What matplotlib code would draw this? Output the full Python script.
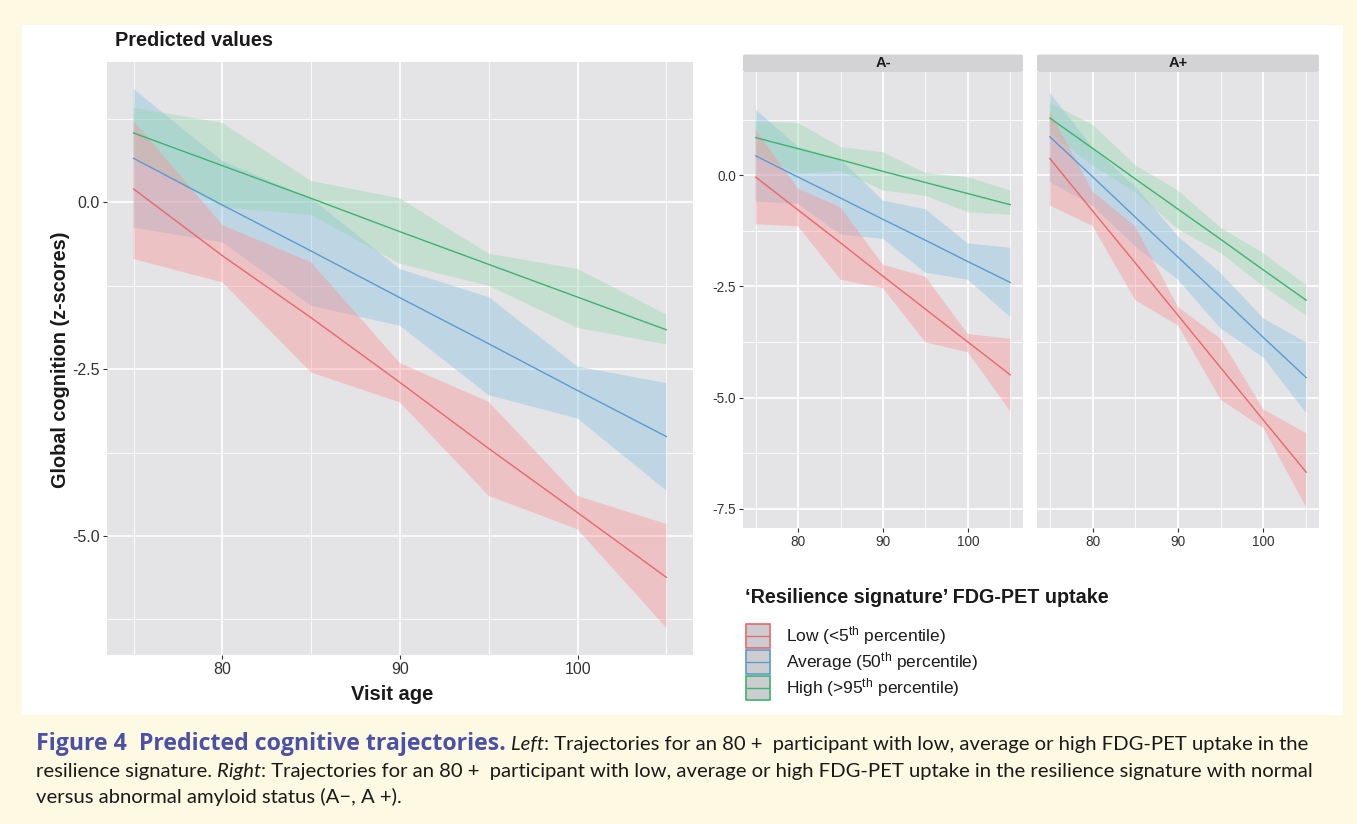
import matplotlib
matplotlib.use("Agg")
import matplotlib.pyplot as plt
from matplotlib.patches import Rectangle, FancyBboxPatch
from matplotlib.lines import Line2D

plt.rcParams['axes.unicode_minus'] = False
SANS = 'Liberation Sans'
plt.rcParams['font.family'] = [SANS, 'DejaVu Sans']
plt.rcParams['mathtext.fontset'] = 'custom'
plt.rcParams['mathtext.rm'] = SANS
plt.rcParams['mathtext.it'] = SANS + ':italic'
plt.rcParams['mathtext.bf'] = SANS + ':bold'

# ---------------- data ----------------
ages = [75, 80, 85, 90, 95, 100, 105]

# Left panel (all participants)
all_low_fit = [0.20, -0.80, -1.73, -2.70, -3.69, -4.65, -5.62]
all_low_lo = [-0.85, -1.20, -2.55, -3.00, -4.40, -4.90, -6.38]
all_low_hi = [1.22, -0.34, -0.90, -2.41, -2.99, -4.40, -4.82]
all_avg_fit = [0.66, -0.04, -0.73, -1.43, -2.12, -2.82, -3.51]
all_avg_lo = [-0.38, -0.60, -1.55, -1.85, -2.89, -3.24, -4.32]
all_avg_hi = [1.70, 0.62, 0.06, -1.00, -1.42, -2.46, -2.71]
all_high_fit = [1.04, 0.55, 0.06, -0.44, -0.93, -1.42, -1.91]
all_high_lo = [0.66, -0.07, -0.19, -0.92, -1.25, -1.88, -2.13]
all_high_hi = [1.42, 1.19, 0.32, 0.06, -0.77, -1.00, -1.68]

# Right panel, A-
neg_low_fit = [-0.04, -0.78, -1.52, -2.27, -3.01, -3.75, -4.49]
neg_low_lo = [-1.10, -1.15, -2.35, -2.54, -3.76, -3.98, -5.31]
neg_low_hi = [1.02, -0.30, -0.72, -2.01, -2.28, -3.57, -3.68]
neg_avg_fit = [0.44, -0.04, -0.51, -0.99, -1.46, -1.94, -2.41]
neg_avg_lo = [-0.59, -0.64, -1.33, -1.43, -2.19, -2.35, -3.19]
neg_avg_hi = [1.48, 0.64, 0.36, -0.57, -0.76, -1.53, -1.63]
neg_high_fit = [0.85, 0.60, 0.35, 0.09, -0.16, -0.41, -0.66]
neg_high_lo = [0.49, 0.04, 0.10, -0.34, -0.46, -0.83, -0.89]
neg_high_hi = [1.21, 1.18, 0.64, 0.52, 0.05, -0.04, -0.34]

# Right panel, A+
pos_low_fit = [0.38, -0.80, -1.97, -3.15, -4.33, -5.51, -6.68]
pos_low_lo = [-0.68, -1.14, -2.81, -3.38, -5.05, -5.69, -7.47]
pos_low_hi = [1.44, -0.36, -1.15, -2.96, -3.68, -5.27, -5.80]
pos_avg_fit = [0.87, -0.03, -0.94, -1.84, -2.74, -3.65, -4.55]
pos_avg_lo = [-0.15, -0.68, -1.60, -2.35, -3.45, -4.10, -5.35]
pos_avg_hi = [1.86, 0.62, -0.25, -1.37, -2.20, -3.22, -3.76]
pos_high_fit = [1.29, 0.61, -0.08, -0.76, -1.44, -2.13, -2.81]
pos_high_lo = [0.95, 0.23, -0.38, -1.21, -1.75, -2.50, -3.15]
pos_high_hi = [1.63, 1.14, 0.23, -0.34, -1.18, -1.75, -2.47]

group_labels = [r'Low (<5$^{\mathrm{th}}$ percentile)',
                r'Average (50$^{\mathrm{th}}$ percentile)',
                r'High (>95$^{\mathrm{th}}$ percentile)']
facet_labels = ['A-', 'A+']
x_ticks = [80, 90, 100]
x_minor = [75, 85, 95, 105]
left_y_ticks = [0.0, -2.5, -5.0]
left_y_labels = ['0.0', '-2.5', '-5.0']
right_y_ticks = [0.0, -2.5, -5.0, -7.5]
right_y_labels = ['0.0', '-2.5', '-5.0', '-7.5']
y_minor = [1.25, -1.25, -3.75, -6.25]

# ---------------- style ----------------
W, H = 1357, 824
CREAM = '#FEF9E2'
PANEL = '#E4E4E6'
LINE_C = {'low': '#E8676B', 'avg': '#5A9BD0', 'high': '#3DB36E'}
FILL_C = {'low': '#FF8A8E', 'avg': '#7FBCE0', 'high': '#8ED6AA'}
ALPHA = 0.37
TXT = '#1a1a1a'
TICKC = '#333333'

fig = plt.figure(figsize=(W / 100, H / 100), dpi=100, facecolor=CREAM)
fig.patches.append(Rectangle((22 / W, 1 - 715 / H), (1343 - 22) / W, (715 - 25) / H,
                             transform=fig.transFigure, facecolor='white',
                             edgecolor='none', zorder=-5))


def fx(px):
    return px / W


def fy(py):
    return 1 - py / H


def ax_rect(x0, y0, x1, y1):
    return [fx(x0), fy(y1), (x1 - x0) / W, (y1 - y0) / H]


def gg_ylim(*series):
    vals = [v for s in series for v in s]
    lo, hi = min(vals), max(vals)
    pad = 0.05 * (hi - lo)
    return lo - pad, hi + pad


def style_ax(ax, yt, ylabels, show_y, tsize):
    ax.set_facecolor(PANEL)
    for s in ax.spines.values():
        s.set_visible(False)
    ax.set_xlim(73.5, 106.5)
    ax.set_xticks(x_ticks)
    ax.set_xticklabels([str(t) for t in x_ticks])
    ax.set_xticks(x_minor, minor=True)
    ax.set_yticks(yt)
    ax.set_yticklabels(ylabels if show_y else [])
    ax.set_yticks(y_minor, minor=True)
    ax.grid(which='major', color='white', lw=1.2)
    ax.grid(which='minor', color='white', lw=0.6)
    ax.set_axisbelow(True)
    ax.tick_params(which='major', length=3.2, width=0.8, color=TICKC,
                   labelsize=tsize, labelcolor=TICKC, pad=2)
    ax.tick_params(which='minor', length=0)
    if not show_y:
        ax.tick_params(axis='y', which='major', length=0)


def draw_groups(ax, groups):
    for key in ['avg', 'high', 'low']:
        fit, lo, hi = groups[key]
        ax.fill_between(ages, lo, hi, facecolor=FILL_C[key], alpha=ALPHA,
                        edgecolor='none', zorder=2)
    for key in ['avg', 'high', 'low']:
        fit, lo, hi = groups[key]
        ax.plot(ages, fit, color=LINE_C[key], lw=1.0, zorder=3)


# ---------------- left panel ----------------
axL = fig.add_axes(ax_rect(107, 62, 693, 655))
groupsL = {'low': (all_low_fit, all_low_lo, all_low_hi),
           'avg': (all_avg_fit, all_avg_lo, all_avg_hi),
           'high': (all_high_fit, all_high_lo, all_high_hi)}
draw_groups(axL, groupsL)
style_ax(axL, left_y_ticks, left_y_labels, True, 11.5)
axL.set_ylim(*gg_ylim(all_low_lo, all_low_hi, all_avg_lo, all_avg_hi,
                      all_high_lo, all_high_hi))

fig.text(fx(115), fy(46), 'Predicted values', fontsize=14.3, fontweight='bold',
         color=TXT, va='baseline', ha='left')
fig.text(fx(392), fy(695), 'Visit age', fontsize=14.5, fontweight='bold',
         color=TXT, va='center', ha='center')
fig.text(fx(60), fy(360), 'Global cognition (z-scores)', fontsize=14.3,
         fontweight='bold', color=TXT, va='center', ha='center', rotation=90)

# ---------------- right panels ----------------
right_sets = [
    {'low': (neg_low_fit, neg_low_lo, neg_low_hi),
     'avg': (neg_avg_fit, neg_avg_lo, neg_avg_hi),
     'high': (neg_high_fit, neg_high_lo, neg_high_hi)},
    {'low': (pos_low_fit, pos_low_lo, pos_low_hi),
     'avg': (pos_avg_fit, pos_avg_lo, pos_avg_hi),
     'high': (pos_high_fit, pos_high_lo, pos_high_hi)},
]
all_right = []
for g in right_sets:
    for k in g:
        all_right += [g[k][1], g[k][2]]
ylimR = gg_ylim(*all_right)

panel_x = [(743, 1023), (1037, 1319)]
for i, (g, (x0, x1)) in enumerate(zip(right_sets, panel_x)):
    ax = fig.add_axes(ax_rect(x0, 72, x1, 528))
    draw_groups(ax, g)
    style_ax(ax, right_y_ticks, right_y_labels, i == 0, 9.8)
    ax.set_ylim(*ylimR)
    strip = FancyBboxPatch((fx(x0), fy(72)), (x1 - x0) / W, 17.5 / H,
                           boxstyle='round,pad=0,rounding_size=0.002',
                           transform=fig.transFigure, facecolor='#D3D3D5',
                           edgecolor='none', zorder=1)
    fig.patches.append(strip)
    fig.text(fx((x0 + x1) / 2), fy(63), facet_labels[i], fontsize=10.5,
             fontweight='bold', color=TXT, ha='center', va='center')

# ---------------- legend ----------------
fig.text(fx(745), fy(603), '\u2018Resilience signature\u2019 FDG-PET uptake',
         fontsize=14.2, fontweight='bold', color=TXT, va='baseline', ha='left')
key_tops = [624, 650, 676]
keys = ['low', 'avg', 'high']
for k, top, lab in zip(keys, key_tops, group_labels):
    fig.patches.append(Rectangle((fx(746), fy(top + 24)), 24 / W, 24 / H,
                                 transform=fig.transFigure, facecolor='#CDCDD1',
                                 edgecolor=LINE_C[k], lw=1.2, zorder=2))
    fig.lines.append(Line2D([fx(747), fx(769)], [fy(top + 12), fy(top + 12)],
                            transform=fig.transFigure, color=LINE_C[k], lw=1.0,
                            zorder=3))
    fig.text(fx(786), fy(top + 12), lab, fontsize=12.5, color=TXT,
             va='center', ha='left')

# ---------------- caption ----------------
CAP_FONT = ['Lato', 'DejaVu Sans']
BOLD_FONT = ['Open Sans', 'Lato', 'DejaVu Sans']
BLUE = '#4B51A6'
renderer = fig.canvas.get_renderer()

line1 = [('Figure 4  Predicted cognitive trajectories.', 'bold', 'normal', BLUE, BOLD_FONT),
         (' ', 'normal', 'normal', TXT, CAP_FONT),
         ('Left', 'normal', 'italic', TXT, CAP_FONT),
         (': Trajectories for an 80 +  participant with low, average or high '
          'FDG-PET uptake in the', 'normal', 'normal', TXT, CAP_FONT)]
line2 = [('resilience signature. ', 'normal', 'normal', TXT, CAP_FONT),
         ('Right', 'normal', 'italic', TXT, CAP_FONT),
         (': Trajectories for an 80 +  participant with low, average or high '
          'FDG-PET uptake in the resilience signature with normal',
          'normal', 'normal', TXT, CAP_FONT)]
line3 = [('versus abnormal amyloid status (A\u2212, A +).', 'normal', 'normal', TXT, CAP_FONT)]


def seg_width(s, fs, weight, style, fam):
    kw = dict(fontsize=fs, fontweight=weight, fontstyle=style, family=fam)
    t1 = fig.text(0, 0, s + '|', **kw)
    t2 = fig.text(0, 0, '|', **kw)
    w = t1.get_window_extent(renderer).width - t2.get_window_extent(renderer).width
    t1.remove()
    t2.remove()
    return w


def line_width(segs, fs):
    return sum(seg_width(s, fs, w, st, fam) for s, w, st, c, fam in segs)


fs0 = 12.0
fs_a = fs0 * (1349 - 36) / line_width(line2, fs0)
fs_b = fs0 * (1297 - 525) / line_width(line1[2:], fs0)
fs = (fs_a * fs_b) ** 0.5
bs = fs0 * (508 - 36) / seg_width(line1[0][0], fs0, 'bold', 'normal', BOLD_FONT)
bs = min(bs, fs * 1.15)


def draw_caption_line(segs, y):
    x = 36
    for s, w, st, c, fam in segs:
        size = bs if w == 'bold' else fs
        fig.text(fx(x), fy(y), s, fontsize=size, fontweight=w, fontstyle=st,
                 color=c, family=fam, va='baseline', ha='left')
        x += seg_width(s, size, w, st, fam)


draw_caption_line(line1, 750)
draw_caption_line(line2, 777)
draw_caption_line(line3, 803)

fig.savefig('out.png', dpi=100, facecolor=CREAM)
